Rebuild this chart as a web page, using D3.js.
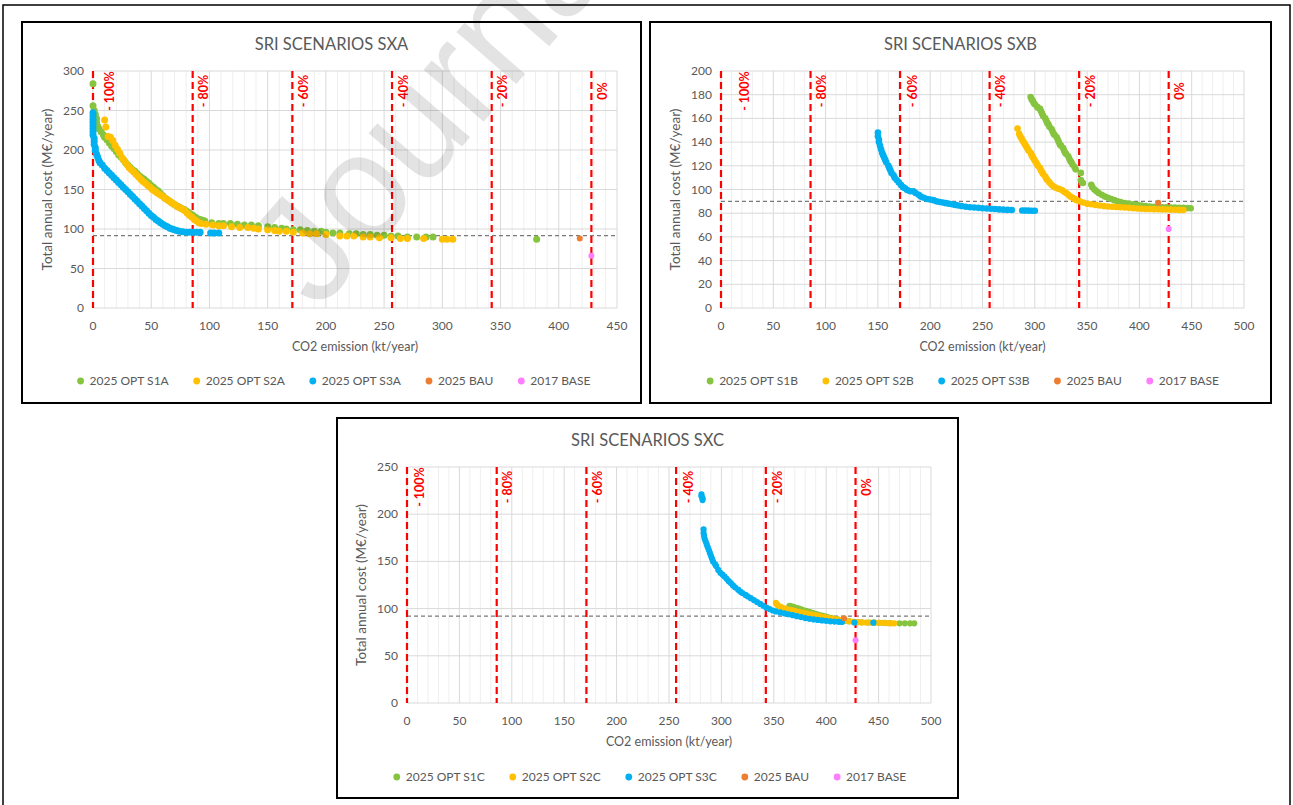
<!DOCTYPE html>
<html>
<head>
<meta charset="utf-8">
<script src="https://cdn.jsdelivr.net/npm/d3@7"></script>
<style>
  html, body { margin: 0; padding: 0; background: #fff; }
  svg { display: block; font-family: Lato, 'Open Sans', sans-serif; }
</style>
</head>
<body>
<svg id="fig" width="1293" height="805"></svg>
<script>
// ── Data ──────────────────────────────────────────────────────────────────────
const COLORS = ['#86C440', '#FFC000', '#00B0F0', '#ED7D31', '#FF7DFF'];

const NAMES_A = ['2025 OPT S1A', '2025 OPT S2A', '2025 OPT S3A', '2025 BAU', '2017 BASE'];
const NAMES_B = ['2025 OPT S1B', '2025 OPT S2B', '2025 OPT S3B', '2025 BAU', '2017 BASE'];
const NAMES_C = ['2025 OPT S1C', '2025 OPT S2C', '2025 OPT S3C', '2025 BAU', '2017 BASE'];

// reduction targets vs. 2017 emission (kt/year)
const TARGET_LABELS = ['- 100%', '- 80%', '- 60%', '- 40%', '- 20%', '0%'];
const TARGET_X      = [0, 85.6, 171.2, 256.8, 342.4, 428];

const X_TICKS_A = [0, 50, 100, 150, 200, 250, 300, 350, 400, 450];
const X_TICKS_BC = [0, 50, 100, 150, 200, 250, 300, 350, 400, 450, 500];
const Y_TICKS_A = [0, 50, 100, 150, 200, 250, 300];
const Y_TICKS_B = [0, 20, 40, 60, 80, 100, 120, 140, 160, 180, 200];
const Y_TICKS_C = [0, 50, 100, 150, 200, 250];

const REF_COST_A = 91.5;
const REF_COST_B = 90;
const REF_COST_C = 92;

// [CO2 kt/year, cost M€/year]
const S1A = [[0,284],[0,256],[1,250],[2,245],[3,240],[3,235],[4,230],[5,227],[7,223],[9,219],[10,216],[12,213],[14,209],[16,205],[18,202],[20,198],[22,194],[24,191],[26,188],[28,184],[30,181],[32,178],[34,175],[36,173],[38,170],[40,167],[42,165],[44,163],[46,160],[48,158],[50,155],[52,153],[54,150],[56,148],[58,145],[60,142],[62,139],[64,137],[66,135],[68,133],[70,131],[72,129],[74,128],[76,126],[78,125],[80,123],[82,121],[84,119],[86,117],[88,115],[90,113],[92,112],[94,111],[96,110],[102,108],[108,107],[112,107],[118,107],[124,106],[130,105],[136,105],[142,104],[150,103],[156,102],[162,101],[166,100],[172,99],[178,99],[184,98],[190,97],[196,97],[200,96],[206,95],[212,95],[220,94],[226,94],[232,93],[238,93],[244,92],[250,92],[256,91],[262,91],[270,90],[278,90],[286,90],[292,90],[381,87]];
const S2A = [[10,238],[11,229],[13,217],[15,216],[17,212],[19,206],[21,201],[23,196],[25,190],[27,186],[29,182],[31,178],[33,175],[35,172],[37,169],[39,166],[41,163],[43,160],[45,158],[47,155],[49,153],[51,150],[53,148],[55,146],[57,144],[59,142],[61,140],[63,138],[65,136],[67,134],[69,132],[71,130],[73,128],[75,127],[77,125],[79,123],[81,120],[83,117],[85,115],[87,112],[89,110],[91,108],[93,107],[97,106],[103,105],[108,104],[112,104],[119,103],[126,102],[133,102],[138,101],[142,100],[150,99],[156,98],[160,97],[166,97],[172,96],[180,95],[186,94],[192,94],[200,93],[212,91],[218,91],[224,91],[232,90],[238,90],[246,89],[256,89],[264,88],[270,88],[284,88],[300,87],[304,87],[309,87]];
const S3A = [[0,247],[0,243],[0,239],[0,235],[0,231],[0,227],[0,223],[0,219],[1,215],[1,211],[1,207],[2,203],[2,199],[3,195],[4,191],[5,187],[6,184],[8,181],[10,177],[12,174],[14,171],[16,168],[18,165],[20,162],[22,159],[24,156],[26,153],[28,150],[30,147],[32,144],[34,141],[36,138],[38,135],[40,132],[42,129],[44,126],[46,123],[48,120],[50,117],[52,115],[54,112],[56,110],[58,108],[60,106],[62,104],[64,103],[66,101],[68,100],[70,99],[72,98],[74,97],[77,96.5],[80,96],[83,96],[86,96],[89,96],[92,96],[101,95],[104,95],[108,95]];
const BAU_A  = [[418,88]];
const BASE_A = [[428,66]];

const S1B = [[296,178],[297,176],[298,175],[299,173],[300,172],[302,170],[303,169],[305,168],[306,166],[307,164],[308,162],[310,160],[311,158],[312,156],[313,155],[314,153],[316,151],[317,149],[318,147],[319,146],[321,144],[322,142],[323,140],[324,138],[325,137],[327,135],[328,133],[329,131],[330,130],[332,128],[333,126],[334,124],[335,123],[336,121],[338,119],[339,117],[344,114],[344,108],[345,106],[346,105.5],[354,104],[355,102],[357,100],[359,98.5],[361,97],[364,95.5],[367,94],[370,93],[373,92],[376,91],[379,90],[382,89.5],[386,88.5],[390,88],[394,87.5],[398,87],[402,86.5],[406,86],[410,85.7],[414,85.5],[418,85.3],[422,85],[426,84.9],[430,84.8],[434,84.7],[438,84.6],[442,84.5],[446,84.3],[449,84.2]];
const S2B = [[283.5,151.5],[285,147],[286,145],[287,143.5],[288,142],[289,140.5],[290,139],[291,137.5],[292,136],[293,134.5],[294,133],[296,131],[297,129],[298,127.5],[299,126],[300,124.5],[301,123],[302,121.5],[303,120],[305,118],[306,116],[307,114.5],[308,113],[310,111],[311,109],[312,108],[314,106],[316,104],[318,102.5],[320,101.5],[323,100.5],[326,99.5],[328,98],[330,97],[332,95.5],[334,94],[336,93],[338,92],[340,91],[343,90],[346,89],[350,88],[354,87.5],[358,87],[362,86.5],[366,86],[370,85.7],[374,85.5],[378,85.2],[382,85],[386,84.8],[390,84.5],[394,84.2],[398,84],[402,83.8],[406,83.6],[410,83.5],[414,83.4],[418,83.3],[422,83.2],[426,83.1],[430,83],[434,82.9],[438,82.8],[442,82.7]];
const S3B = [[150,148],[150,145],[151,142],[151,140],[152,137],[153,134],[154,131],[155,129],[156,127],[157,125],[158,123],[160,120],[161,118],[162,116],[163,114],[165,112],[166,110],[168,108],[170,106],[172,104],[174,102],[176,101],[178,99.5],[181,98.5],[184,98.5],[186,97],[189,95.5],[191,94],[194,93],[197,92],[200,91.5],[203,91],[206,90],[209,89.5],[212,89],[215,88.5],[218,88],[221,87.5],[224,87],[227,86.5],[230,86],[234,85.5],[238,85],[242,84.8],[246,84.5],[250,84.2],[254,84],[258,83.7],[262,83.5],[266,83.2],[270,83],[274,82.8],[278,82.7],[288,82.3],[291,82.2],[294,82.2],[297,82.1],[300,82.1]];
const BAU_B  = [[418,88.9]];
const BASE_B = [[428,66.7]];

const S1C = [[365,103],[366,102.5],[368,102],[370,101.3],[372,100.6],[374,100],[376,99.2],[378,98.5],[381,97.5],[384,96.5],[387,95.5],[390,94.5],[393,93.5],[396,92.6],[399,91.7],[402,90.8],[405,90],[408,89.2],[411,88.5],[414,87.8],[418,87],[422,86.5],[426,86],[430,85.7],[434,85.5],[440,85.3],[446,85.1],[451,85],[456,84.8],[461,84.6],[470,84.4],[475,84.4],[480,84.4],[484,84.4]];
const S2C = [[352,106],[353,104.5],[354,103],[356,102],[358,101],[361,100],[364,99],[367,98.3],[370,97.5],[374,96.5],[378,95.7],[382,95],[386,94],[390,93],[394,92],[398,91.2],[402,90.3],[406,89.4],[410,88.6],[414,87.8],[418,87.2],[422,86.6],[426,86],[430,85.6],[434,85.4],[438,85.3],[442,85.2],[446,85.1],[450,85],[454,84.9],[458,84.7],[462,84.5],[465,84.4]];
const S3C = [[281,221],[281,219],[282,217],[282,215],[283,184],[283,180],[283.5,177],[284,174],[285,171],[286,168],[287,165],[288,162],[289,159],[290,156],[291,153],[292,150],[294,147],[295,145],[297,141],[299,138],[301,136],[303,134],[305,131.5],[307,129],[309,127],[311,124.5],[313,122.5],[316,120],[318,118],[320,116.5],[323,114.5],[325,113],[328,111],[331,109],[334,107],[337,105],[340,103],[343,101],[346,99.5],[349,98],[352,97],[356,96],[360,95],[364,94],[368,93],[372,92],[376,91],[380,90],[384,89.2],[388,88.5],[392,88],[396,87.5],[400,87],[404,86.5],[408,86.3],[412,86],[415,85.8],[427,85.2],[445,85.1]];
const BAU_C  = [[417,89.7]];
const BASE_C = [[428,66.5]];


// ── Panel layout (pixels) ─────────────────────────────────────────────────────
const PANELS = [
    { title: 'SRI SCENARIOS SXA', frame: [22, 22, 619, 381], plot: [93, 71, 617, 308],
      xMax: 450, yMax: 300, xTicks: X_TICKS_A, yTicks: Y_TICKS_A, ref: REF_COST_A,
      names: NAMES_A, series: [S1A, S2A, S3A, BAU_A, BASE_A], r: 3.5,
      labelDx: [16, 11, 11, 11, 11, 11] },
    { title: 'SRI SCENARIOS SXB', frame: [650, 22, 621, 381], plot: [721, 71, 1244, 308],
      xMax: 500, yMax: 200, xTicks: X_TICKS_BC, yTicks: Y_TICKS_B, ref: REF_COST_B,
      names: NAMES_B, series: [S1B, S2B, S3B, BAU_B, BASE_B], r: 3.3,
      labelDx: [23, 11, 12, 11, 11, 11] },
    { title: 'SRI SCENARIOS SXC', frame: [337, 418, 621, 380], plot: [407, 467, 931, 703],
      xMax: 500, yMax: 250, xTicks: X_TICKS_BC, yTicks: Y_TICKS_C, ref: REF_COST_C,
      names: NAMES_C, series: [S1C, S2C, S3C, BAU_C, BASE_C], r: 3.1,
      labelDx: [12, 11, 11, 12, 12, 11] },
];

const GREY_TXT = '#595959';
const LEGEND_GAP = 28;
const svg = d3.select('#fig');

// outer page frame
svg.append('rect')
    .attr('x', 3).attr('y', 5).attr('width', 1287).attr('height', 830)
    .attr('fill', 'none').attr('stroke', '#000').attr('stroke-width', 1.5);


// ── One scatter panel ─────────────────────────────────────────────────────────
function drawPanel(p) {
    const [fx, fy, fw, fh] = p.frame;
    const [x0, y0, x1, y1] = p.plot;
    const g = svg.append('g');

    g.append('rect')
        .attr('x', fx).attr('y', fy).attr('width', fw).attr('height', fh)
        .attr('fill', '#fff').attr('stroke', '#000').attr('stroke-width', 2);

    const x = d3.scaleLinear().domain([0, p.xMax]).range([x0, x1]);
    const y = d3.scaleLinear().domain([0, p.yMax]).range([y1, y0]);

    // minor vertical grid every 10 kt
    g.selectAll('line.minor')
        .data(d3.range(10, p.xMax, 10).filter(v => v % 50 !== 0))
        .join('line')
        .attr('x1', d => x(d)).attr('x2', d => x(d))
        .attr('y1', y0).attr('y2', y1)
        .attr('stroke', '#efefef').attr('stroke-width', 1);

    g.selectAll('line.vmaj')
        .data(p.xTicks)
        .join('line')
        .attr('x1', d => x(d)).attr('x2', d => x(d))
        .attr('y1', y0).attr('y2', y1)
        .attr('stroke', '#d9d9d9').attr('stroke-width', 1);

    g.selectAll('line.hmaj')
        .data(p.yTicks)
        .join('line')
        .attr('x1', x0).attr('x2', x1)
        .attr('y1', d => y(d)).attr('y2', d => y(d))
        .attr('stroke', '#d9d9d9').attr('stroke-width', 1);

    // tick labels
    g.selectAll('text.xt')
        .data(p.xTicks)
        .join('text')
        .attr('x', d => x(d)).attr('y', y1 + 22)
        .attr('text-anchor', 'middle')
        .attr('font-size', 12).attr('fill', GREY_TXT)
        .text(d => d);

    g.selectAll('text.yt')
        .data(p.yTicks)
        .join('text')
        .attr('x', x0 - 9).attr('y', d => y(d) + 4)
        .attr('text-anchor', 'end')
        .attr('font-size', 12).attr('fill', GREY_TXT)
        .text(d => d);

    // titles
    g.append('text')
        .attr('x', fx + fw / 2).attr('y', fy + 28)
        .attr('text-anchor', 'middle')
        .attr('font-size', 16.5).attr('fill', GREY_TXT)
        .text(p.title);

    g.append('text')
        .attr('x', (x0 + x1) / 2).attr('y', y1 + 43)
        .attr('text-anchor', 'middle')
        .attr('font-size', 12.5).attr('fill', GREY_TXT)
        .text('CO2 emission (kt/year)');

    g.append('text')
        .attr('transform', `translate(${x0 - 41},${(y0 + y1) / 2}) rotate(-90)`)
        .attr('text-anchor', 'middle')
        .attr('font-size', 13.5).attr('fill', GREY_TXT)
        .text('Total annual cost (M€/year)');

    // reference cost line
    g.append('line')
        .attr('x1', x0).attr('x2', x1)
        .attr('y1', y(p.ref)).attr('y2', y(p.ref))
        .attr('stroke', '#7a7a7a').attr('stroke-width', 1.2)
        .attr('stroke-dasharray', '4,3');

    // reduction target lines + labels
    g.selectAll('line.target')
        .data(TARGET_X)
        .join('line')
        .attr('x1', d => x(d)).attr('x2', d => x(d))
        .attr('y1', y0).attr('y2', y1)
        .attr('stroke', '#ff0000').attr('stroke-width', 2.2)
        .attr('stroke-dasharray', '7,4');

    g.selectAll('text.target')
        .data(TARGET_X)
        .join('text')
        .attr('transform', (d, i) => `translate(${x(d) + p.labelDx[i]},${y0 + 20}) rotate(-90)`)
        .attr('text-anchor', 'middle')
        .attr('dominant-baseline', 'central')
        .attr('font-size', 12.5).attr('font-weight', 700)
        .attr('fill', '#ff0000')
        .text((d, i) => TARGET_LABELS[i]);

    // scatter series
    p.series.forEach((pts, si) => {
        g.append('g').selectAll('circle')
            .data(pts)
            .join('circle')
            .attr('cx', d => x(d[0]))
            .attr('cy', d => y(d[1]))
            .attr('r', si >= 3 ? 3 : p.r)
            .attr('fill', COLORS[si]);
    });

    // legend, centred on the frame
    const lg = g.append('g');
    const ly = fy + 363;
    let cx = 0;
    p.names.forEach((name, i) => {
        const it = lg.append('g').attr('transform', `translate(${cx},0)`);
        it.append('circle').attr('cx', 0).attr('cy', ly - 4).attr('r', 3.4).attr('fill', COLORS[i]);
        const t = it.append('text')
            .attr('x', 9).attr('y', ly)
            .attr('font-size', 12).attr('fill', GREY_TXT)
            .text(name);
        cx += 9 + t.node().getComputedTextLength() + LEGEND_GAP;
    });
    const total = cx - LEGEND_GAP;
    lg.attr('transform', `translate(${fx + fw / 2 + 4 - total / 2},0)`);
}

PANELS.forEach(drawPanel);


// ── Watermark ─────────────────────────────────────────────────────────────────
svg.append('text')
    .attr('transform', 'translate(318,312) rotate(-49)')
    .attr('font-family', "'Liberation Sans', Arial, sans-serif")
    .attr('font-size', 150)
    .attr('fill', '#000').attr('fill-opacity', 0.11)
    .text('Journal Pre-proof');
</script>
</body>
</html>
